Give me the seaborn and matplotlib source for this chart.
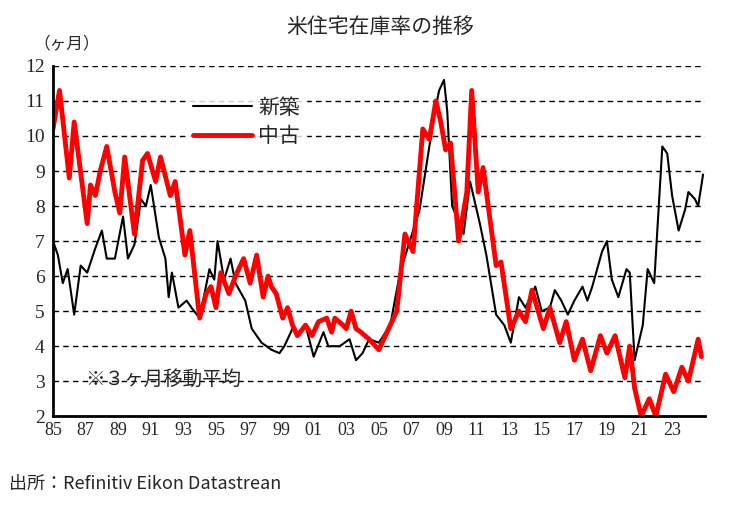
import matplotlib
matplotlib.use("Agg")
import matplotlib.pyplot as plt
import seaborn as sns
import pandas as pd

new_years = [1985.0,1985.3,1985.6,1985.9,1986.3,1986.7,1987.1,1987.6,1988.0,1988.3,1988.8,1989.3,1989.6,1990.0,1990.4,1990.7,1991.0,1991.5,1991.9,1992.1,1992.3,1992.7,1993.2,1993.5,1994.0,1994.6,1994.9,1995.1,1995.5,1995.9,1996.2,1996.8,1997.2,1997.8,1998.4,1998.9,1999.2,1999.7,2000.1,2000.5,2001.0,2001.6,2001.9,2002.6,2003.2,2003.6,2004.0,2004.4,2005.0,2005.7,2006.3,2006.9,2007.5,2007.9,2008.4,2008.7,2009.0,2009.2,2009.5,2010.2,2010.6,2010.9,2011.2,2011.6,2012.2,2012.7,2013.1,2013.6,2014.0,2014.6,2015.0,2015.5,2015.8,2016.2,2016.6,2017.0,2017.5,2017.8,2018.1,2018.7,2019.0,2019.3,2019.7,2020.2,2020.4,2020.7,2021.2,2021.5,2021.9,2022.4,2022.7,2023.0,2023.4,2023.8,2024.0,2024.4,2024.6,2024.9]
new_vals = [7.0,6.6,5.8,6.2,4.9,6.3,6.1,6.8,7.3,6.5,6.5,7.7,6.5,6.9,8.2,8.0,8.6,7.1,6.5,5.4,6.1,5.1,5.3,5.1,4.8,6.2,5.9,7.0,5.9,6.5,5.8,5.3,4.5,4.1,3.9,3.8,4.0,4.5,4.3,4.6,3.7,4.4,4.0,4.0,4.2,3.6,3.8,4.2,4.1,4.6,6.1,7.0,7.9,9.1,10.6,11.3,11.6,10.7,8.0,7.2,8.7,8.1,7.5,6.6,4.9,4.6,4.1,5.4,5.1,5.7,5.0,5.1,5.6,5.3,4.9,5.3,5.7,5.3,5.7,6.7,7.0,5.9,5.4,6.2,6.1,3.6,4.6,6.2,5.8,9.7,9.5,8.3,7.3,7.9,8.4,8.2,8.0,8.9]

used_years = [1985.0,1985.4,1986.0,1986.3,1987.1,1987.3,1987.6,1987.9,1988.3,1988.8,1989.1,1989.4,1989.7,1990.0,1990.5,1990.8,1991.3,1991.6,1992.2,1992.5,1993.1,1993.4,1994.0,1994.4,1994.7,1995.0,1995.3,1995.8,1996.2,1996.7,1997.1,1997.5,1997.9,1998.2,1998.4,1998.7,1999.1,1999.4,1999.7,2000.0,2000.5,2000.9,2001.3,2001.8,2002.1,2002.3,2002.8,2003.0,2003.3,2003.6,2003.9,2004.4,2005.0,2005.5,2006.1,2006.6,2007.1,2007.7,2008.1,2008.5,2008.8,2009.1,2009.4,2009.9,2010.4,2010.7,2011.1,2011.4,2012.2,2012.5,2013.1,2013.6,2014.0,2014.4,2015.1,2015.5,2016.1,2016.5,2017.0,2017.5,2018.0,2018.6,2019.0,2019.5,2020.1,2020.4,2020.7,2021.1,2021.6,2022.0,2022.6,2023.1,2023.6,2024.0,2024.6,2024.8]
used_vals = [10.2,11.3,8.8,10.4,7.5,8.6,8.3,9.0,9.7,8.4,7.8,9.4,8.3,7.2,9.3,9.5,8.7,9.4,8.3,8.7,6.6,7.3,4.8,5.5,5.7,5.1,6.1,5.5,6.0,6.5,5.8,6.6,5.4,6.0,5.7,5.5,4.8,5.1,4.6,4.3,4.6,4.3,4.7,4.8,4.4,4.8,4.6,4.5,5.0,4.5,4.4,4.2,3.9,4.4,5.0,7.2,6.7,10.2,9.9,11.0,10.4,9.6,9.8,7.0,8.4,11.3,8.4,9.1,6.3,6.4,4.5,5.0,4.7,5.6,4.5,5.1,4.1,4.7,3.6,4.2,3.3,4.3,3.8,4.3,3.1,4.0,2.8,2.0,2.5,2.0,3.2,2.7,3.4,3.0,4.2,3.7]

tick_years = list(range(1985, 2025, 2))
tick_labels = [f"{y % 100:02d}" for y in tick_years]

sns.set_style("white")
plt.rcParams['font.family'] = ['Noto Sans CJK JP', 'DejaVu Sans']

fig = plt.figure(figsize=(7.31, 5.07), dpi=100)
ax = fig.add_axes([0.0725, 0.179, 0.8915, 0.691])

df_new = pd.DataFrame({"year": new_years, "val": new_vals})
df_used = pd.DataFrame({"year": used_years, "val": used_vals})
sns.lineplot(data=df_new, x="year", y="val", ax=ax, color="black", lw=1.5, label="新築")
sns.lineplot(data=df_used, x="year", y="val", ax=ax, color="#ff0000", lw=3.5, label="中古")

ax.set_xlim(1985, 2025)
ax.set_ylim(2, 12)
ax.set_yticks(range(2, 13))
ax.set_yticklabels([str(v) for v in range(2, 13)], family="Liberation Serif", fontsize=14)
ax.set_xticks(range(1985, 2026), minor=True)
ax.set_xticks(tick_years)
ax.set_xticklabels(tick_labels, family="Liberation Serif", fontsize=13)
ax.tick_params(axis="x", which="both", direction="in", length=5, width=1.5, pad=4)
ax.tick_params(axis="y", which="both", direction="in", length=0, pad=6)
for v in range(3, 13):
    ax.axhline(v, color="black", lw=1, ls=(0, (4, 3)), zorder=0)
for s in ["top", "right"]:
    ax.spines[s].set_visible(False)
for s in ["left", "bottom"]:
    ax.spines[s].set_linewidth(2)
    ax.spines[s].set_color("black")
ax.set_xlabel("")
ax.set_ylabel("")
leg = ax.legend(loc="upper left", bbox_to_anchor=(0.19, 0.96), frameon=True, fontsize=15,
                handlelength=2.8, labelspacing=0.3, borderpad=0.3, handletextpad=0.3)
leg.get_frame().set_facecolor("white")
leg.get_frame().set_edgecolor("white")

fig.text(0.52, 0.935, "米住宅在庫率の推移", ha="center", fontsize=15)
fig.text(0.045, 0.905, "（ヶ月）", fontsize=12)
ax.text(1987.0, 2.9, "※３ヶ月移動平均", fontsize=14)
fig.text(0.012, 0.035, "出所：Refinitiv Eikon Datastrean", fontsize=13)

fig.savefig("out.png", dpi=100)
